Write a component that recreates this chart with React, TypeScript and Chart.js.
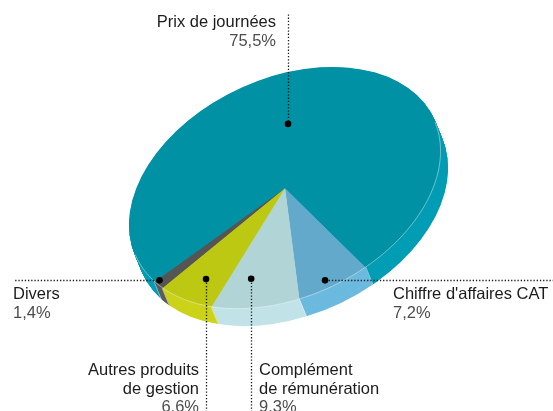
import React, { useEffect, useRef } from "react";
import { Chart, registerables } from "chart.js";

Chart.register(...registerables);

// ---- data ----
const categories = [
  "Chiffre d'affaires CAT",
  "Complément de rémunération",
  "Autres produits de gestion",
  "Divers",
  "Prix de journées",
];
const shares = [7.2, 9.3, 6.6, 1.4, 75.5];
const shareLabels = ["7,2%", "9.3%", "6.6%", "1,4%", "75,5%"];
const labelLines = [
  ["Chiffre d'affaires CAT"],
  ["Complément", "de rémunération"],
  ["Autres produits", "de gestion"],
  ["Divers"],
  ["Prix de journées"],
];

// ---- styles / layout ----
const topColors = ["#63a9cb", "#b1d4d7", "#bdc813", "#555556", "#0091a5"];
const sideColors = ["#6cbadf", "#c1e3e8", "#ccd31a", "#5c5c5c", "#009db5"];
const TILT = (-25 * Math.PI) / 180;
const SQUASH = 0.665;
const DEPTH = { x: 7, y: 17 };
const anchors = [
  { frac: 0.58, r: 0.92, dir: "right" },
  { frac: 0.66, r: 0.75, dir: "down" },
  { frac: 0.45, r: 0.806, dir: "down" },
  { frac: 0.8, r: 0.97, dir: "left" },
  { frac: 0.46, r: 0.55, dir: "up" },
];
const labelPos = [
  { x: 393, y: 299, align: "left" },
  { x: 259, y: 375, align: "left" },
  { x: 199, y: 375, align: "right" },
  { x: 13, y: 299, align: "left" },
  { x: 276, y: 27, align: "right" },
];
const LINE_H = 18.5;
const EDGE = { top: 14, right: 553, bottom: 411, left: 13 };
const FONT = '16.5px "Liberation Sans", Arial, sans-serif';

function project(cx: number, cy: number, px: number, py: number) {
  const dx = px - cx;
  const dy = (py - cy) * SQUASH;
  const c = Math.cos(TILT);
  const s = Math.sin(TILT);
  return { x: cx + dx * c - dy * s, y: cy + dx * s + dy * c };
}

function tilt(ctx: CanvasRenderingContext2D, cx: number, cy: number) {
  ctx.translate(cx, cy);
  ctx.rotate(TILT);
  ctx.scale(1, SQUASH);
  ctx.translate(-cx, -cy);
}

const pie3d = {
  id: "pie3d",
  beforeDatasetsDraw(chart: any) {
    const ctx = chart.ctx as CanvasRenderingContext2D;
    const arcs = chart.getDatasetMeta(0).data;
    const cx = arcs[0].x;
    const cy = arcs[0].y;
    const N = 30;
    for (let k = N; k >= 1; k--) {
      ctx.save();
      ctx.translate((DEPTH.x * k) / N, (DEPTH.y * k) / N);
      tilt(ctx, cx, cy);
      arcs.forEach((a: any, i: number) => {
        const p = a.getProps(["startAngle", "endAngle", "outerRadius"], true);
        ctx.beginPath();
        ctx.moveTo(cx, cy);
        ctx.arc(cx, cy, p.outerRadius, p.startAngle, p.endAngle);
        ctx.closePath();
        ctx.fillStyle = sideColors[i];
        ctx.fill();
      });
      ctx.restore();
    }
    // seams on the side
    ctx.save();
    ctx.strokeStyle = "rgba(255,255,255,0.55)";
    ctx.lineWidth = 0.8;
    arcs.forEach((a: any) => {
      const p = a.getProps(["startAngle", "outerRadius"], true);
      const q = project(cx, cy, cx + p.outerRadius * Math.cos(p.startAngle), cy + p.outerRadius * Math.sin(p.startAngle));
      ctx.beginPath();
      ctx.moveTo(q.x, q.y);
      ctx.lineTo(q.x + DEPTH.x, q.y + DEPTH.y);
      ctx.stroke();
    });
    ctx.restore();
    ctx.save();
    tilt(ctx, cx, cy);
  },
  afterDatasetsDraw(chart: any) {
    const ctx = chart.ctx as CanvasRenderingContext2D;
    ctx.restore();
    const arcs = chart.getDatasetMeta(0).data;
    const cx = arcs[0].x;
    const cy = arcs[0].y;
    const r = arcs[0].outerRadius - 0.6;
    // rim highlight only on the front, where the side is visible
    ctx.save();
    ctx.strokeStyle = "rgba(255,255,255,0.5)";
    ctx.lineWidth = 0.9;
    const steps = 720;
    let open = false;
    ctx.beginPath();
    for (let s = 0; s <= steps; s++) {
      const th = (s / steps) * Math.PI * 2;
      const p = project(cx, cy, cx + r * Math.cos(th), cy + r * Math.sin(th));
      const p2 = project(cx, cy, cx + r * Math.cos(th + 0.001), cy + r * Math.sin(th + 0.001));
      const tx = p2.x - p.x;
      const ty = p2.y - p.y;
      const vis = ty * DEPTH.x - tx * DEPTH.y > 0;
      if (vis) {
        if (!open) {
          ctx.moveTo(p.x, p.y);
          open = true;
        } else ctx.lineTo(p.x, p.y);
      } else open = false;
    }
    ctx.stroke();
    ctx.restore();
  },
  afterDraw(chart: any) {
    const ctx = chart.ctx as CanvasRenderingContext2D;
    const arcs = chart.getDatasetMeta(0).data;
    const cx = arcs[0].x;
    const cy = arcs[0].y;
    ctx.save();
    arcs.forEach((a: any, i: number) => {
      const p = a.getProps(["startAngle", "endAngle", "outerRadius"], true);
      const an = anchors[i];
      const ang = p.startAngle + an.frac * (p.endAngle - p.startAngle);
      const rr = an.r * p.outerRadius;
      const d = project(cx, cy, cx + rr * Math.cos(ang), cy + rr * Math.sin(ang));
      let ex = d.x;
      let ey = d.y;
      if (an.dir === "up") ey = EDGE.top;
      if (an.dir === "down") ey = EDGE.bottom;
      if (an.dir === "left") ex = EDGE.left;
      if (an.dir === "right") ex = EDGE.right;
      ctx.setLineDash([1.3, 1.9]);
      ctx.lineWidth = 1.3;
      ctx.strokeStyle = "#1a1a1a";
      ctx.beginPath();
      ctx.moveTo(Math.round(d.x) + 0.5, Math.round(d.y) + 0.5);
      ctx.lineTo(Math.round(ex) + 0.5, Math.round(ey) + 0.5);
      ctx.stroke();
      ctx.setLineDash([]);
      ctx.beginPath();
      ctx.arc(d.x, d.y, 3.3, 0, Math.PI * 2);
      ctx.fillStyle = "#000";
      ctx.fill();
    });
    ctx.font = FONT;
    ctx.textBaseline = "alphabetic";
    labelLines.forEach((lines, i) => {
      const lp = labelPos[i];
      ctx.textAlign = lp.align as CanvasTextAlign;
      lines.forEach((t, j) => {
        ctx.fillStyle = "#1c1c1c";
        ctx.fillText(t, lp.x, lp.y + j * LINE_H);
      });
      ctx.fillStyle = "#4d4d4d";
      ctx.fillText(shareLabels[i], lp.x, lp.y + lines.length * LINE_H);
    });
    ctx.restore();
  },
};

export default function App() {
  const ref = useRef<HTMLCanvasElement | null>(null);
  useEffect(() => {
    if (!ref.current) return;
    const chart = new Chart(ref.current, {
      type: "pie",
      data: {
        labels: categories,
        datasets: [
          {
            data: shares,
            backgroundColor: topColors,
            borderWidth: 0,
            clip: false,
          } as any,
        ],
      },
      options: {
        animation: false,
        responsive: true,
        maintainAspectRatio: false,
        rotation: 166,
        events: [],
        layout: { padding: { left: 120.5, right: 103.5, top: 23.5, bottom: 58.5 } },
        plugins: { legend: { display: false }, tooltip: { enabled: false } },
      },
      plugins: [pie3d],
    });
    return () => chart.destroy();
  }, []);
  return (
    <div style={{ position: "fixed", left: 0, top: 0, width: 553, height: 411, background: "#fff" }}>
      <canvas ref={ref} />
    </div>
  );
}
